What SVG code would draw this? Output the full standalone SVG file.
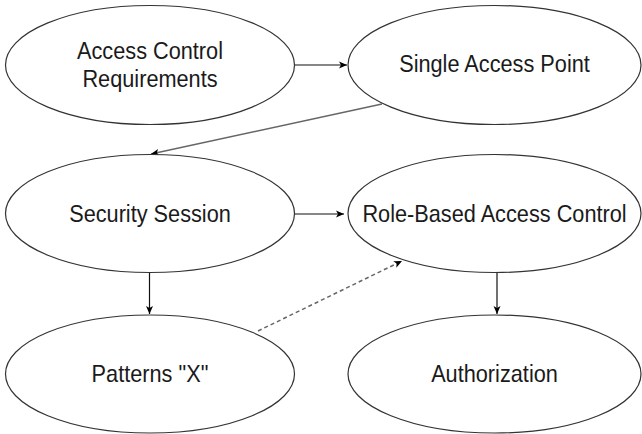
<svg xmlns="http://www.w3.org/2000/svg" width="642" height="434" viewBox="0 0 642 434">
  <style>
    .node ellipse { fill: #ffffff; stroke: #333333; stroke-width: 1.2; }
    .node text { font-family: "Liberation Sans", Arial, sans-serif; font-size: 24px; fill: #1a1a1a; text-anchor: middle; }
    .edge { fill: none; stroke: #111111; stroke-width: 1.2; }
    .edge.soft { stroke: #666666; stroke-width: 1.5; }
    .edge.dashed { stroke: #666666; stroke-width: 1.5; stroke-dasharray: 4 3; }
  </style>
  <defs>
    <marker id="arrow" markerUnits="userSpaceOnUse" markerWidth="10" markerHeight="10" viewBox="0 0 10 10" refX="9" refY="5" orient="auto">
      <path d="M1,1.5 L9,5 L1,8.5 L3,5 Z" fill="#000000"/>
    </marker>
  </defs>
  <rect width="642" height="434" fill="#ffffff"/>

  <g id="connectors">
    <line class="edge" x1="294" y1="65" x2="347" y2="65" marker-end="url(#arrow)"/>
    <line class="edge soft" x1="382" y1="104" x2="151" y2="154" marker-end="url(#arrow)"/>
    <line class="edge" x1="294" y1="214" x2="344" y2="214" marker-end="url(#arrow)"/>
    <line class="edge" x1="149.5" y1="272.5" x2="149.5" y2="314" marker-end="url(#arrow)"/>
    <line class="edge" x1="497" y1="272.5" x2="497" y2="314" marker-end="url(#arrow)"/>
    <line class="edge dashed" x1="258" y1="331" x2="402" y2="261" marker-end="url(#arrow)"/>
  </g>

  <g id="access-control-requirements" class="node">
    <ellipse cx="150" cy="65" rx="144.5" ry="59.5"/>
    <text transform="translate(150,58.5) scale(0.905,1)">Access Control</text>
    <text transform="translate(150,86.5) scale(0.905,1)">Requirements</text>
  </g>

  <g id="single-access-point" class="node">
    <ellipse cx="494.5" cy="65" rx="146.5" ry="59.5"/>
    <text transform="translate(494.5,72.3) scale(0.905,1)">Single Access Point</text>
  </g>

  <g id="security-session" class="node">
    <ellipse cx="150" cy="213.5" rx="144.5" ry="59"/>
    <text transform="translate(150,221.5) scale(0.905,1)">Security Session</text>
  </g>

  <g id="role-based-access-control" class="node">
    <ellipse cx="494.5" cy="213.5" rx="146.5" ry="59"/>
    <text transform="translate(494.5,221.5) scale(0.905,1)">Role-Based Access Control</text>
  </g>

  <g id="patterns-x" class="node">
    <ellipse cx="150" cy="374" rx="144.5" ry="59"/>
    <text transform="translate(150,382) scale(0.905,1)">Patterns "X"</text>
  </g>

  <g id="authorization" class="node">
    <ellipse cx="494.5" cy="374" rx="146.5" ry="59"/>
    <text transform="translate(494.5,382) scale(0.905,1)">Authorization</text>
  </g>
</svg>
